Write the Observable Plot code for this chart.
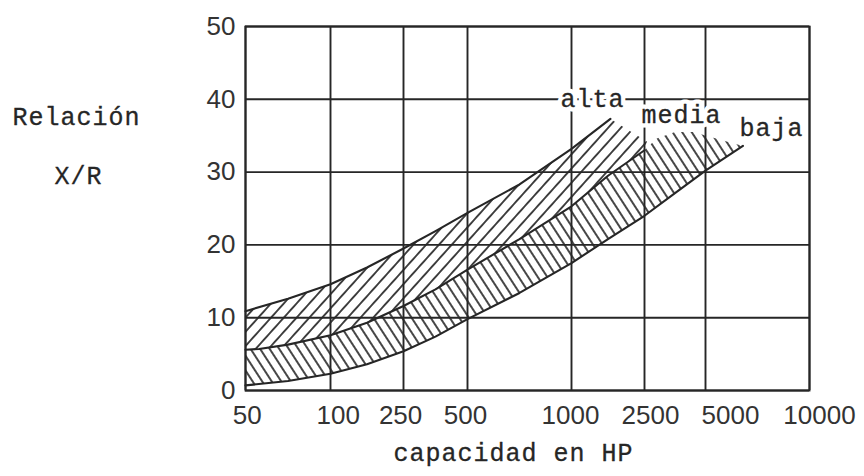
<!DOCTYPE html>
<html>
<head>
<meta charset="utf-8">
<script src="https://cdn.jsdelivr.net/npm/d3@7"></script>
<script src="https://cdn.jsdelivr.net/npm/@observablehq/plot@0.6"></script>
<style>
html, body { margin: 0; padding: 0; background: #fff; }
#chart { width: 864px; height: 476px; }
svg text { paint-order: stroke; }
svg g[font-family="Liberation Mono"] text { letter-spacing: 1px; }
</style>
</head>
<body>
<div id="chart"></div>
<script>
// ---- tick values ----
const hpTicks = [50, 100, 250, 500, 1000, 2500, 5000, 10000];
// HP value under which each printed tick label is centred (labels are typeset, not exactly under their lines)
const hpLabelAt = [51, 116, 244, 492, 995, 2746, 6200, 10480];
const xrTicks = [0, 10, 20, 30, 40, 50];

// ---- curves (HP, X/R) ----
const altaHP  = [50, 75, 100, 175, 250, 375, 500, 750, 1000, 1800];
const altaXR  = [10.9, 12.6, 14.6, 16.9, 19.5, 21.9, 24.4, 28.3, 33.2, 37.3];
const mediaHP = [50, 58, 75, 100, 175, 250, 375, 500, 750, 1000, 1750, 2500];
const mediaXR = [5.6, 5.7, 6.3, 7.6, 9.3, 11.6, 13.9, 16.6, 20.8, 25.3, 29.5, 33.0];
const bajaHP  = [50, 75, 100, 175, 250, 375, 500, 750, 1000, 1750, 2500, 3750, 5000, 6800];
const bajaXR  = [0.7, 1.3, 2.3, 3.6, 5.4, 7.4, 9.8, 13.4, 17.5, 20.8, 24.0, 27.1, 30.2, 33.6];
// open (unbordered) ends of the hatching
const altaOpenHP = [1800, 2600];
const altaOpenXR = [37.3, 34.2];
const bajaOpenHP = [2500, 3000, 3750, 4500, 5500, 6800];
const bajaOpenXR = [33.0, 34.6, 35.5, 35.5, 34.6, 33.6];

// ---- labels ----
const zoneNames = ["alta", "media", "baja"];
const zoneHP    = [1430, 4020, 8170];
const zoneXR    = [40, 37.8, 36];
const yTitle1 = "Relación";
const yTitle2 = "X/R";
const xTitle  = "capacidad en HP";

// ---- build tables ----
const pts = (hs, vs) => hs.map((h, i) => ({hp: h, xr: vs[i]}));
const altaLine  = pts(altaHP, altaXR);
const mediaLine = pts(mediaHP, mediaXR);
const bajaLine  = pts(bajaHP, bajaXR);
const altaBand = [...altaLine, ...pts(altaOpenHP.slice(1), altaOpenXR.slice(1)), ...mediaLine.slice().reverse()];
const bajaBand = [...mediaLine, ...pts(bajaOpenHP.slice(1), bajaOpenXR.slice(1)), ...bajaLine.slice().reverse()];

const ink = "#262626";
const mono = "Liberation Mono";
const monoText = {fontFamily: mono, fontSize: 25, fill: ink, stroke: ink, strokeWidth: 0.3};

const chart = Plot.plot({
  width: 864,
  height: 476,
  marginLeft: 245,
  marginRight: 55,
  marginTop: 26,
  marginBottom: 86,
  style: {fontFamily: "Liberation Sans, Arial, sans-serif", fontSize: "26px", background: "#fff", color: ink, overflow: "visible"},
  x: {type: "linear", domain: hpTicks, range: [245, 330, 403, 467, 571, 644, 705, 809], axis: null},
  y: {domain: [0, 50]},
  marks: [
    Plot.line(altaBand, {x: "hp", y: "xr", fill: "url(#hatch-alta)", stroke: "none"}),
    Plot.line(bajaBand, {x: "hp", y: "xr", fill: "url(#hatch-baja)", stroke: "none"}),
    Plot.gridX(hpTicks, {stroke: ink, strokeOpacity: 1, strokeWidth: 1.9}),
    Plot.gridY(xrTicks, {stroke: ink, strokeOpacity: 1, strokeWidth: 1.9}),
    Plot.frame({stroke: ink, strokeWidth: 1.9}),
    Plot.line(altaLine, {x: "hp", y: "xr", stroke: ink, strokeWidth: 2.1}),
    Plot.line(mediaLine, {x: "hp", y: "xr", stroke: ink, strokeWidth: 2.1}),
    Plot.line(bajaLine, {x: "hp", y: "xr", stroke: ink, strokeWidth: 2.1}),
    Plot.text(hpTicks, {x: hpLabelAt, frameAnchor: "bottom", lineAnchor: "top", dy: 15, text: d => String(d), fontSize: 26, fill: "#333"}),
    Plot.axisY(xrTicks, {tickSize: 0, tickPadding: 10, tickFormat: d => String(d), label: null, fontSize: 26, fill: "#333"}),
    // white halo breaking the grid behind the zone names
    Plot.text(zoneNames, {x: zoneHP, y: zoneXR, text: d => d, fontFamily: mono, fontSize: 25, fill: "white", stroke: "white", strokeWidth: 9}),
    Plot.text(zoneNames, {x: zoneHP, y: zoneXR, text: d => d, ...monoText}),
    Plot.text([yTitle1], {text: d => d, frameAnchor: "top-left", textAnchor: "middle", dx: -169, dy: 81, ...monoText}),
    Plot.text([yTitle2], {text: d => d, frameAnchor: "top-left", textAnchor: "middle", dx: -167, dy: 140, ...monoText}),
    Plot.text([xTitle], {text: d => d, frameAnchor: "bottom", textAnchor: "middle", dx: -14, dy: 70, ...monoText})
  ]
});

// hatch patterns
const NS = "http://www.w3.org/2000/svg";
const defs = document.createElementNS(NS, "defs");
function hatch(id, angle, gap, width) {
  const p = document.createElementNS(NS, "pattern");
  p.setAttribute("id", id);
  p.setAttribute("patternUnits", "userSpaceOnUse");
  p.setAttribute("width", gap);
  p.setAttribute("height", gap);
  p.setAttribute("patternTransform", `rotate(${angle})`);
  const l = document.createElementNS(NS, "line");
  l.setAttribute("x1", gap / 2); l.setAttribute("x2", gap / 2);
  l.setAttribute("y1", 0); l.setAttribute("y2", gap);
  l.setAttribute("stroke", ink);
  l.setAttribute("stroke-width", width);
  p.appendChild(l);
  defs.appendChild(p);
}
hatch("hatch-alta", 42, 9.5, 1.7);
hatch("hatch-baja", -33, 8, 1.7);
chart.insertBefore(defs, chart.firstChild);

document.getElementById("chart").appendChild(chart);
</script>
</body>
</html>
